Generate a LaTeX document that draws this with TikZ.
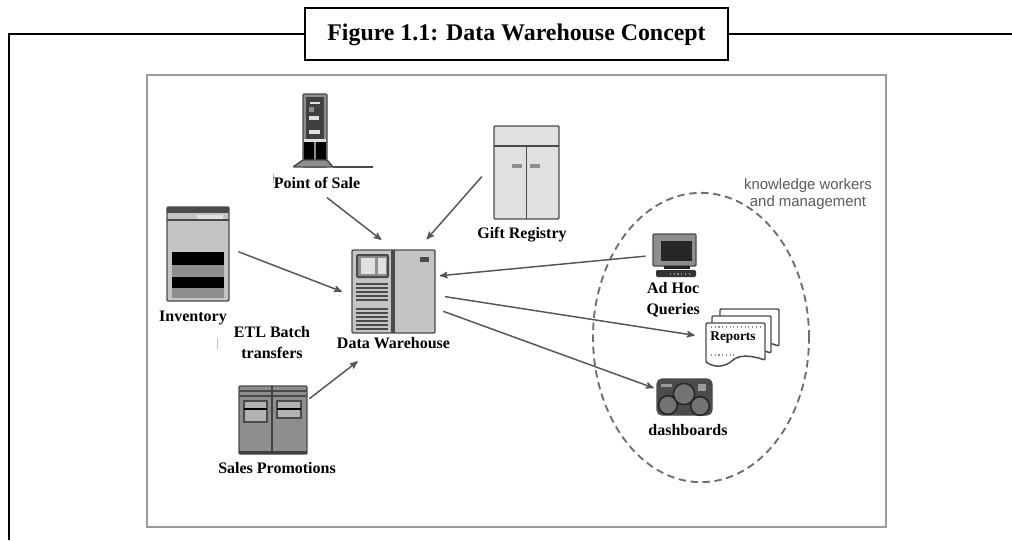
\documentclass[tikz,border=0pt]{standalone}
\usepackage{fontspec}
\setmainfont{Liberation Serif}
\setsansfont{Liberation Sans}
\usetikzlibrary{shapes,arrows,positioning}
\definecolor{frameg}{HTML}{9C9C9C}
\definecolor{flowg}{HTML}{555555}
\definecolor{edgeg}{HTML}{4A4A4A}
\definecolor{bodyg}{HTML}{C4C4C4}
\definecolor{lightg}{HTML}{E0E0E0}
\definecolor{midg}{HTML}{8E8E8E}
\tikzset{
  flow/.style={
    draw=flowg,
    line width=1.1pt,
    ->,
    >=stealth'
  },
  outer/.style={
    draw=black,
    line width=1.9pt
  },
  icon/.style={
    draw=edgeg,
    rectangle,
    inner sep=0pt,
    line width=1.1pt,
    rounded corners=0.8pt
  },
  tag/.style={
    inner sep=0pt,
    text height=8pt,
    text depth=2.5pt,
    font=\bfseries\fontsize{12}{14}\selectfont
  },
  tagtwo/.style={
    inner sep=0pt,
    align=center,
    font=\bfseries\fontsize{12}{15.75}\selectfont
  },
  slat/.style={
    draw=edgeg,
    line width=0.9pt
  }
}
\begin{document}
\begin{tikzpicture}[x=0.75pt, y=-0.75pt, auto]

    \useasboundingbox (0,0) rectangle (1012,540);

    \draw [draw=frameg, line width=2.2pt] (147,75) rectangle (886,527);

    \node [outer, fill=white, rectangle, minimum width=317pt, minimum height=39pt, inner sep=0pt, text height=12pt, text depth=3pt, font=\bfseries\fontsize{17.9}{20}\selectfont] (title) at (516.5,34) {Figure 1.1: Data Warehouse Concept};

    \coordinate (cornertop) at (9,34);
    \coordinate (leftend) at (9,540);
    \coordinate (rightend) at (1012,34);

    \draw [outer] (title.west) -- (cornertop) -- (leftend);
    \draw [outer] (title.east) -- (rightend);

    \node [icon, fill=midg, minimum width=18pt, minimum height=54.75pt] (pos) at (315,130.5) {};

    \node [icon, fill=bodyg, minimum width=46.5pt, minimum height=70.5pt] (inv) at (198,254) {};

    \node [icon, fill=bodyg, minimum width=62.25pt, minimum height=62.25pt] (dw) at (393.5,291.5) {};

    \node [icon, fill=midg, minimum width=51pt, minimum height=51pt] (sales) at (273,420) {};

    \node [icon, fill=lightg, minimum width=48.75pt, minimum height=69.75pt] (gift) at (526.5,172.5) {};

    \node [icon, draw=none, minimum width=32.25pt, minimum height=32.25pt] (mon) at (674.5,255.5) {};

    \node [icon, draw=none, minimum width=54.75pt, minimum height=42pt] (rep) at (742.5,337) {};

    \node [icon, fill=black!70, rounded corners=4pt, minimum width=41.25pt, minimum height=27pt] (dash) at (684.5,397) {};

    \node [tag, below=7.25pt of pos, xshift=1.5pt] (posname) {Point of Sale};

    \node [tag, below=6.75pt of inv, xshift=-3.75pt] (invname) {Inventory};

    \node [tag, below=3pt of dw] (dwname) {Data Warehouse};

    \node [tag, below=6pt of sales, xshift=3pt] (salesname) {Sales Promotions};

    \node [tag, below=6pt of gift, xshift=-3.4pt] (giftname) {Gift Registry};

    \node [tagtwo, below=3pt of mon, xshift=-1pt] (monname) {Ad Hoc\\Queries};

    \node [tag, below=6.75pt of dash, xshift=2.6pt] (dashname) {dashboards};

    \node [tagtwo] (etl) at (272,343) {ETL Batch\\transfers};

    \node [draw=flowg!85, dash pattern=on 5.5pt off 3.5pt, line width=1.4pt, ellipse, minimum width=162pt, minimum height=217pt, inner sep=0pt] (users) at (701,337.5) {};

    \node [inner sep=0pt, align=center, text=black!65, font=\sffamily\fontsize{11.2}{12.75}\selectfont] (usersname) at (808,194) {knowledge workers\\and management};

    \draw [draw=black!35, line width=0.5pt] (273,174) -- (273,183);
    \draw [draw=black!25, line width=0.5pt] (217,338) -- (217,349);

    % point of sale
    \fill [black!75] (306,97) rectangle (324,139);
    \fill [lightg] (310,102) rectangle (320,104);
    \fill [midg] (309,107) rectangle (314,112);
    \fill [lightg] (309,116) rectangle (319,120);
    \fill [lightg] (309,130) rectangle (320,134);
    \fill [lightg] (304,139) rectangle (326,142);
    \fill [black] (304,142) rectangle (314,160);
    \fill [black] (316,142) rectangle (326,160);
    \draw [icon, fill=midg] (293,167) -- (303,160) -- (327,160) -- (333,167) -- cycle;
    \draw [draw=edgeg, line width=1pt] (333,167) -- (373,167);

    % inventory
    \fill [edgeg] (167,207) rectangle (229,213);
    \fill [lightg] (197,215) rectangle (223,219);
    \draw [draw=edgeg, line width=0.8pt] (167,220) -- (229,220);
    \fill [black] (172,252) rectangle (224,265);
    \fill [midg] (172,265) rectangle (224,277);
    \fill [black] (172,277) rectangle (224,288);
    \fill [midg] (172,288) rectangle (224,298);

    % data warehouse
    \draw [draw=edgeg, line width=2.6pt] (393,250) -- (393,333);
    \draw [icon, fill=midg, line width=1.5pt] (357,255) rectangle (388,277);
    \fill [lightg] (361,258) rectangle (375,274);
    \fill [lightg] (378,258) rectangle (386,274);
    \fill [edgeg] (420,257) rectangle (429,262);
    \foreach \rowy in {284,288,292,296,300,309,313,317,321,325,329}
      \draw [slat] (356,\rowy) -- (388,\rowy);

    % sales promotions
    \draw [slat] (239,391) -- (307,391);
    \draw [slat] (239,396) -- (307,396);
    \draw [draw=black!75, line width=1.2pt] (272,386) -- (272,454);
    \fill [black!75] (239,451) rectangle (307,454);
    \draw [slat, fill=black!30] (244,401) rectangle (267,422);
    \draw [draw=black, line width=1pt] (244,409) -- (267,409);
    \draw [slat, fill=black!30] (277,401) rectangle (301,418);
    \draw [draw=black, line width=1pt] (277,409) -- (301,409);

    % gift registry
    \draw [draw=edgeg, line width=1.1pt] (494,146) -- (559,146);
    \draw [draw=edgeg, line width=1.1pt] (526.5,146) -- (526.5,219);
    \fill [midg] (512,164) rectangle (522,168);
    \fill [midg] (530,164) rectangle (540,168);

    % monitor
    \draw [icon, fill=midg] (653,234) rectangle (696,266);
    \fill [black!85] (661,241) rectangle (692,261);
    \fill [black!85] (664,266) rectangle (690,269);
    \fill [black!80, rounded corners=1pt] (656,270) rectangle (696,277);
    \draw [draw=midg, line width=0.8pt, dotted] (670,274) -- (692,274);

    % reports
    \foreach \offs/\offy in {14/-14, 6/-7, 0/0}
      \draw [icon, fill=white, shift={(\offs,\offy)}] (706,323) -- (765,323) -- (765,360) .. controls (750,355) and (740,355) .. (733,360) .. controls (725,367) and (715,368) .. (706,362) -- cycle;
    \draw [draw=midg, line width=0.8pt, dotted] (711,327) -- (760,327);
    \draw [draw=midg, line width=0.8pt, dotted] (711,355) -- (735,355);
    \node [inner sep=0pt, font=\bfseries\fontsize{10}{12}\selectfont] (repname) at (733,338) {Reports};

    % dashboard
    \foreach \dialx/\dialy/\dialr in {668/405/7, 684/394/8, 700/406/7}
      \draw [draw=black!85, fill=black!55, line width=1.2pt] (\dialx,\dialy) circle (\dialr pt);
    \fill [black!40] (661,384) rectangle (672,387);
    \fill [black!40] (698,384) rectangle (706,391);

    \draw [flow, shorten <=7pt, shorten >=11.5pt] (posname.-70) -- (dw.north);
    \draw [flow, shorten <=13pt, shorten >=10pt] (gift.165) -- (dw.60);
    \draw [flow, shorten <=7pt, shorten >=7.5pt] (inv.10) -- (dw.185);
    \draw [flow, shorten <=1.5pt, shorten >=34pt] (sales.30) -- (dw.south);
    \draw [flow, shorten <=5pt, shorten >=3pt] (mon.west) -- (dw.20);
    \draw [flow, shorten <=7pt, shorten >=8pt] (dw.-5) -- (rep.west);
    \draw [flow, shorten <=6pt, shorten >=2pt] (dw.-22) -- (dash.164);
  \end{tikzpicture}
\end{document}
